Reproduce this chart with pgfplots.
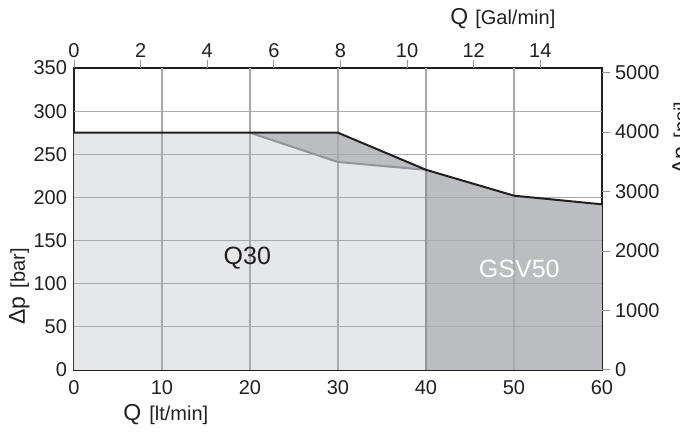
\documentclass[border=0pt]{standalone}
\usepackage{fontspec}
\setmainfont{Liberation Sans}
\usepackage{pgfplots}
\pgfplotsset{compat=1.18}
\definecolor{lightfill}{HTML}{E6E7E8}
\definecolor{darkfill}{HTML}{BCBDC0}
\definecolor{bound}{HTML}{939598}
\definecolor{gridc}{HTML}{A7A9AC}
\definecolor{curve}{HTML}{231F20}
\begin{document}
\begin{tikzpicture}
\path[use as bounding box] (-37pt,-31pt) rectangle (303pt,185pt);
\begin{axis}[
  at={(0,0)}, anchor=south west,
  scale only axis, width=264pt, height=151pt,
  xmin=0, xmax=60, ymin=0, ymax=350,
  xtick={0,10,...,60}, ytick={0,50,...,350},
  major tick length=0pt,
  axis line style={curve, line width=0.9pt},
  tick label style={font=\fontsize{10}{12}\selectfont, text=curve},
  /pgf/number format/assume math mode=true,
  xticklabel style={yshift=-1.5pt},
]
\addplot[fill=darkfill, draw=none] coordinates {(20,275) (30,275) (40,232) (50,202) (60,192)} \closedcycle;
\addplot[fill=lightfill, draw=none] coordinates {(0,275) (20,275) (30,241) (40,232)} \closedcycle;
\pgfplotsinvokeforeach{10,20,30,40,50}{\draw[gridc, line width=0.6pt] (axis cs:#1,0) -- (axis cs:#1,350);}
\pgfplotsinvokeforeach{50,100,150,200,250,300}{\draw[gridc, line width=0.6pt] (axis cs:0,#1) -- (axis cs:60,#1);}
\addplot[bound, line width=1pt] coordinates {(20,275) (30,241) (40,232)};
\addplot[bound, line width=1.2pt] coordinates {(40,0) (40,232)};
\addplot[curve, line width=1pt] coordinates {(0,275) (30,275) (40,232) (50,202) (60,192)};
\node[font=\fontsize{12.5}{14}\selectfont, text=curve] at (axis cs:19.7,130) {Q30};
\node[font=\fontsize{12.5}{14}\selectfont, text=white] at (axis cs:50.6,117) {GSV50};
\end{axis}
\begin{axis}[
  at={(0,0)}, anchor=south west,
  scale only axis, width=264pt, height=151pt,
  xmin=0, xmax=15.8503, ymin=0, ymax=5076.33,
  axis x line*=top, axis y line*=right,
  axis line style={draw=none},
  xtick={0,2,...,14}, ytick={0,1000,...,5000},
  tick align=outside, major tick length=4pt,
  tick style={bound, line width=0.5pt},
  tick label style={font=\fontsize{10}{12}\selectfont, text=curve},
  /pgf/number format/assume math mode=true,
  /pgf/number format/1000 sep={},
  scaled ticks=false,
  xticklabel style={yshift=-2.5pt},
  yticklabel style={xshift=-1pt},
]
\addplot[draw=none] coordinates {(0,0) (15,5000)};
\end{axis}
\node[anchor=base west, inner sep=0, text=curve] at (24.5pt,-25.5pt) {\fontsize{11.5}{13}\selectfont Q\hspace{4pt}\fontsize{10}{12}\selectfont[lt/min]};
\node[anchor=base west, inner sep=0, text=curve] at (188pt,172.5pt) {\fontsize{11.5}{13}\selectfont Q\hspace{3.5pt}\fontsize{10}{12}\selectfont[Gal/min]};
\node[anchor=base west, inner sep=0, rotate=90, text=curve] at (-24.5pt,22.5pt) {\fontsize{11.5}{13}\selectfont Δp\hspace{4pt}\fontsize{10}{12}\selectfont[bar]};
\node[anchor=base west, inner sep=0, rotate=90, text=curve] at (307pt,97.5pt) {\fontsize{11.5}{13}\selectfont Δp\hspace{4pt}\fontsize{10}{12}\selectfont[psi]};
\end{tikzpicture}
\end{document}
